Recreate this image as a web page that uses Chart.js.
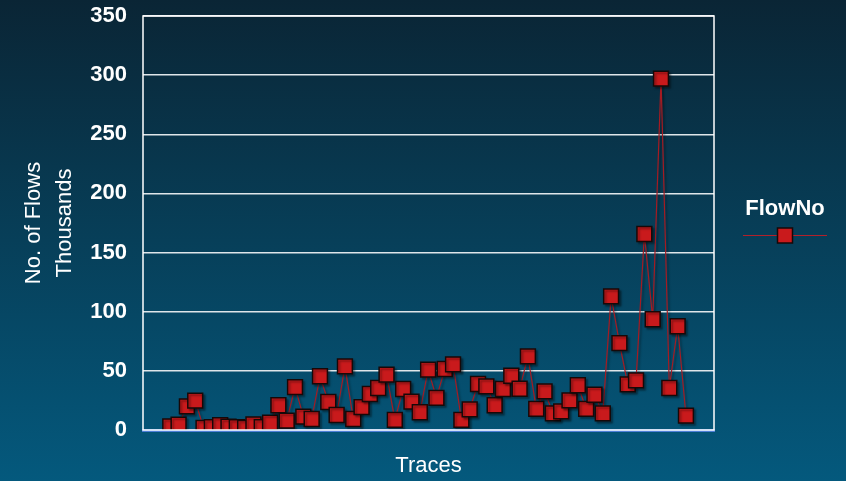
<!DOCTYPE html>
<html>
<head>
<meta charset="utf-8">
<title>FlowNo</title>
<script src="https://cdn.jsdelivr.net/npm/chart.js@4.4.0/dist/chart.umd.min.js"></script>
<style>
    html, body { margin: 0; padding: 0; }
    body {
        width: 846px;
        height: 481px;
        overflow: hidden;
        background: linear-gradient(to bottom, #0a2535 0%, #04597d 100%);
    }
</style>
</head>
<body>
<canvas id="flowChart" width="846" height="481"></canvas>
<script>
// Donnees (en milliers)
const traces = [
    1, 2, 3, 4, 5, 6, 7, 8, 9, 10, 11, 12, 13, 14, 15, 16, 17, 18, 19, 20,
    21, 22, 23, 24, 25, 26, 27, 28, 29, 30, 31, 32, 33, 34, 35, 36, 37, 38, 39, 40,
    41, 42, 43, 44, 45, 46, 47, 48, 49, 50, 51, 52, 53, 54, 55, 56, 57, 58, 59, 60,
    61, 62, 63
];
const flowNo = [
    3.1, 4.5, 20.0, 24.8, 1.7, 2.3, 4.0, 2.8, 2.3, 1.7,
    4.8, 2.3, 6.2, 20.9, 7.9, 36.3, 11.3, 9.3, 45.4, 23.7,
    12.7, 53.8, 9.3, 19.4, 30.4, 35.5, 46.8, 8.5, 34.7, 24.0,
    15.0, 51.0, 27.1, 51.6, 55.5, 8.5, 17.5, 38.9, 36.9, 20.9,
    34.7, 45.9, 34.9, 62.3, 17.8, 32.7, 14.1, 15.8, 25.1, 37.8,
    17.8, 29.8, 14.1, 113.0, 73.5, 38.6, 42.0, 165.7, 93.6, 297.0,
    35.5, 87.7, 12.1
];
const yTicks = [0, 50, 100, 150, 200, 250, 300, 350];

const FONT = '"Liberation Sans", Arial, sans-serif';
const lineColor = '#a51b22';
const markerFill = '#c91a1c';
const markerBorder = '#170808';

// Ombre legere sous les marqueurs
const shadowPlugin = {
    id: 'markerShadow',
    beforeDatasetDraw(chart) {
        const ctx = chart.ctx;
        ctx.save();
        ctx.shadowColor = 'rgba(0, 0, 0, 0.35)';
        ctx.shadowOffsetX = 2;
        ctx.shadowOffsetY = 2;
        ctx.shadowBlur = 2;
    },
    afterDatasetDraw(chart) {
        chart.ctx.restore();
    }
};

// Cadre blanc de la zone de trace
const framePlugin = {
    id: 'plotFrame',
    afterDatasetsDraw(chart) {
        const { ctx, chartArea } = chart;
        ctx.save();
        ctx.strokeStyle = '#ffffff';
        ctx.lineWidth = 1.5;
        ctx.strokeRect(chartArea.left, chartArea.top,
            chartArea.right - chartArea.left, chartArea.bottom - chartArea.top);
        ctx.restore();
    }
};

// Legende a droite : titre au-dessus, ligne + marqueur en dessous
const sideLegend = {
    id: 'sideLegend',
    afterDraw(chart) {
        const ctx = chart.ctx;
        const ds = chart.data.datasets[0];
        const cx = 785;
        ctx.save();
        ctx.fillStyle = '#ffffff';
        ctx.font = 'bold 22px ' + FONT;
        ctx.textAlign = 'center';
        ctx.textBaseline = 'middle';
        ctx.fillText(ds.label, cx, 209);

        ctx.strokeStyle = '#b3202a';
        ctx.lineWidth = 1.2;
        ctx.beginPath();
        ctx.moveTo(743, 235.5);
        ctx.lineTo(827, 235.5);
        ctx.stroke();

        ctx.fillStyle = markerFill;
        ctx.strokeStyle = markerBorder;
        ctx.lineWidth = 1.5;
        ctx.fillRect(cx - 7.5, 228, 15, 15);
        ctx.strokeRect(cx - 7.5, 228, 15, 15);
        ctx.restore();
    }
};

const ctx = document.getElementById('flowChart').getContext('2d');

const flowChart = new Chart(ctx, {
    type: 'line',
    data: {
        datasets: [{
            label: 'FlowNo',
            data: traces.map((t, i) => ({ x: t, y: flowNo[i] })),
            borderColor: lineColor,
            borderWidth: 1.2,
            tension: 0,
            fill: false,
            pointStyle: 'rect',
            pointRadius: 10.5,
            pointHoverRadius: 10.5,
            pointBorderWidth: 1.5,
            pointBackgroundColor: markerFill,
            pointBorderColor: markerBorder,
            clip: 0
        }]
    },
    options: {
        responsive: false,
        animation: false,
        layout: {
            padding: { top: 16, right: 132, bottom: 0, left: 0 }
        },
        plugins: {
            legend: { display: false },
            tooltip: { enabled: false }
        },
        scales: {
            x: {
                type: 'linear',
                min: -2.28,
                max: 66.37,
                grid: { display: false },
                ticks: { display: false },
                border: { display: true, color: '#4d7fd6', width: 3 },
                title: {
                    display: true,
                    text: 'Traces',
                    color: '#ffffff',
                    font: { family: FONT, size: 22 },
                    padding: { top: 0, bottom: 2 }
                },
                afterFit(scale) {
                    scale.height = 51;
                }
            },
            y: {
                min: 0,
                max: 350,
                afterBuildTicks(scale) {
                    scale.ticks = yTicks.map(v => ({ value: v }));
                },
                grid: {
                    color: '#dfe6ea',
                    lineWidth: 1.5,
                    drawTicks: true,
                    tickLength: 16,
                    tickColor: 'rgba(0, 0, 0, 0)'
                },
                border: { display: false },
                ticks: {
                    color: '#ffffff',
                    padding: 0,
                    font: { family: FONT, size: 22, weight: 'bold' }
                },
                title: {
                    display: true,
                    text: ['No. of Flows', 'Thousands'],
                    color: '#ffffff',
                    font: { family: FONT, size: 22, lineHeight: 1.39 },
                    padding: { top: 19, bottom: 0 }
                },
                afterFit(scale) {
                    scale.width = 143;
                }
            }
        }
    },
    plugins: [shadowPlugin, framePlugin, sideLegend]
});
</script>
</body>
</html>
